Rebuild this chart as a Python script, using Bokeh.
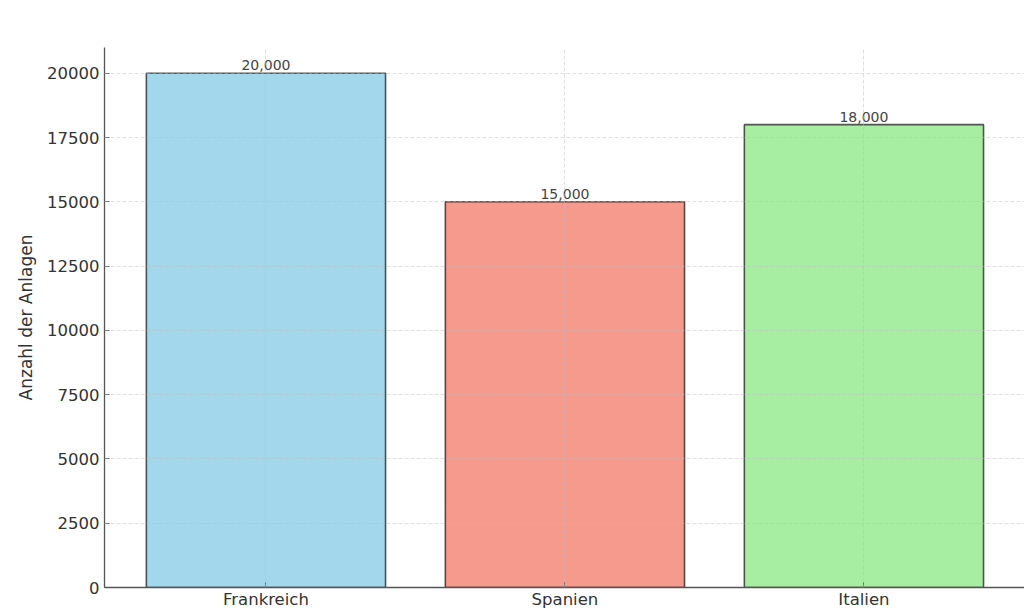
from bokeh.plotting import figure
from bokeh.models import Range1d, FixedTicker, ColumnDataSource, LabelSet
from bokeh.core.properties import value
from bokeh.embed import file_html
from bokeh.resources import INLINE

# Data
categories = ["Frankreich", "Spanien", "Italien"]
values = [20000, 15000, 18000]
colors = ["#A2D7EC", "#F79A8E", "#A8EEA2"]
y_ticks = [0, 2500, 5000, 7500, 10000, 12500, 15000, 17500, 20000]

xs = list(range(len(categories)))
labels = [f"{v:,}" for v in values]

source = ColumnDataSource(dict(x=xs, top=values, color=colors, label=labels))

p = figure(width=1024, height=613, output_backend="svg", toolbar_location=None,
           x_range=Range1d(-0.54, 2.537), y_range=Range1d(0, 21000),
           min_border_left=104, min_border_top=47, min_border_right=0, min_border_bottom=26)
p.outline_line_color = None
p.background_fill_color = "white"
p.border_fill_color = "white"

p.vbar(x="x", top="top", width=0.8, bottom=0, source=source,
       fill_color="color", line_color="black", line_alpha=0.65, line_width=1.6)

p.add_layout(LabelSet(x="x", y="top", text="label", source=source,
                      text_align="center", text_baseline="bottom", y_offset=3,
                      text_font=value("DejaVu Sans"), text_font_size="14px",
                      text_color="#444444"))

# Axes
p.xaxis.ticker = FixedTicker(ticks=xs)
p.xaxis.major_label_overrides = {i: c for i, c in zip(xs, categories)}
p.yaxis.ticker = FixedTicker(ticks=y_ticks)
p.xaxis.minor_tick_line_color = None
p.yaxis.minor_tick_line_color = None
for ax in (p.xaxis, p.yaxis):
    ax.major_tick_in = 5
    ax.major_tick_out = 0
    ax.axis_line_color = "#555555"
    ax.axis_line_width = 1.3
    ax.major_tick_line_color = "#555555"
    ax.major_label_text_font = "DejaVu Sans"
    ax.major_label_text_font_size = "16.5px"
    ax.major_label_text_color = "#333333"
p.xaxis.major_label_standoff = 2
p.yaxis.major_label_standoff = 5
p.yaxis.axis_label = "Anzahl der Anlagen"
p.yaxis.axis_label_text_font = "DejaVu Sans"
p.yaxis.axis_label_text_font_size = "17px"
p.yaxis.axis_label_text_font_style = "normal"
p.yaxis.axis_label_text_color = "#333333"
p.yaxis.axis_label_standoff = 8

# Grid
for g in (p.xgrid, p.ygrid):
    g.grid_line_color = "#bbbbbb"
    g.grid_line_alpha = 0.6
    g.grid_line_dash = "4 2"
    g.grid_line_width = 0.8
    g.level = "overlay"
p.ygrid.ticker = FixedTicker(ticks=y_ticks)
p.xgrid.ticker = FixedTicker(ticks=xs)

open("out.html", "w").write(file_html(p, INLINE))
